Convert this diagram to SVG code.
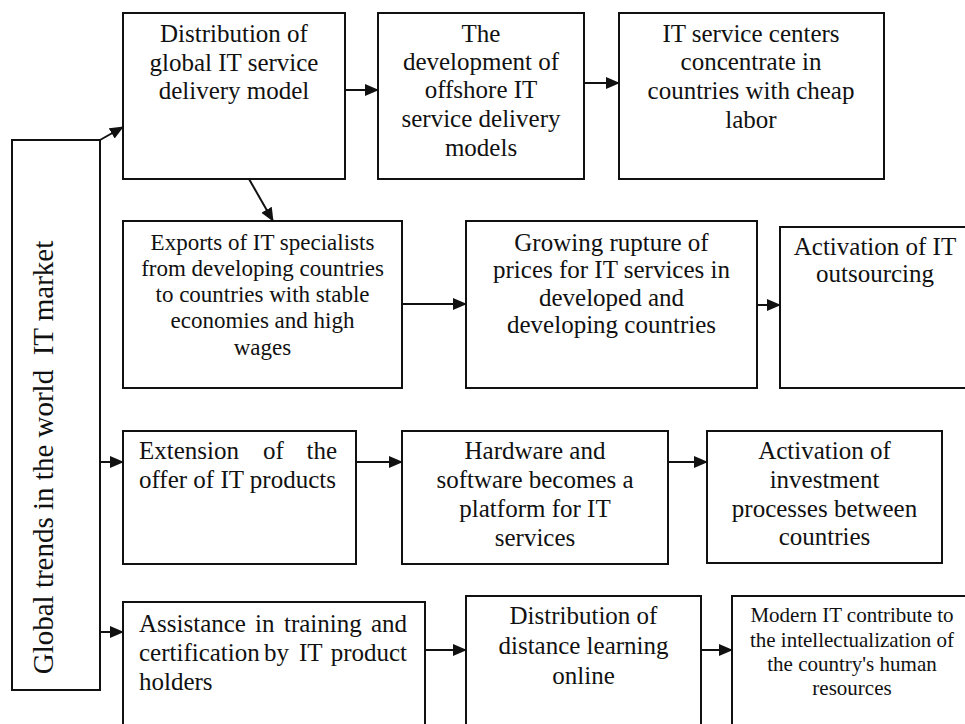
<svg xmlns="http://www.w3.org/2000/svg" width="965" height="724" viewBox="0 0 965 724">
<style>
.box{fill:#fff;stroke:#111;stroke-width:2}
text{font-family:"Liberation Serif","Times New Roman",serif;fill:#111}
.c{text-anchor:middle}
.f25{font-size:25px}
.f23{font-size:23px}
.f21{font-size:21px}
.f29{font-size:29px}
.conn line{stroke:#111;stroke-width:2;marker-end:url(#ah)}
</style>
<defs>
<marker id="ah" markerUnits="userSpaceOnUse" markerWidth="15" markerHeight="13" refX="13" refY="6" orient="auto">
<path d="M0,0 L14,6 L0,12 z" fill="#111"/>
</marker>
</defs>
<rect width="965" height="724" fill="#fff"/>

<g id="global">
<rect class="box" x="12" y="140" width="88" height="550"/>
<text class="f29 c" transform="translate(53,457.5) rotate(-90)" xml:space="preserve">Global trends in the world  IT market</text>
</g>

<g id="n1">
<rect class="box" x="123" y="13" width="222" height="166"/>
<text class="f25 c"><tspan x="234" y="42">Distribution of</tspan><tspan x="234" y="70.5">global IT service</tspan><tspan x="234" y="99">delivery model</tspan></text>
</g>

<g id="n2">
<rect class="box" x="378" y="13" width="206" height="166"/>
<text class="f25 c"><tspan x="481" y="42">The</tspan><tspan x="481" y="70">development of</tspan><tspan x="481" y="98">offshore IT</tspan><tspan x="481" y="127">service delivery</tspan><tspan x="481" y="156">models</tspan></text>
</g>

<g id="n3">
<rect class="box" x="619" y="13" width="265" height="166"/>
<text class="f25 c"><tspan x="751" y="42">IT service centers</tspan><tspan x="751" y="70">concentrate in</tspan><tspan x="751" y="99">countries with cheap</tspan><tspan x="751" y="128">labor</tspan></text>
</g>

<g id="n4">
<rect class="box" x="123" y="221" width="279" height="167"/>
<text class="f23 c"><tspan x="262.5" y="250">Exports of IT specialists</tspan><tspan x="262.5" y="276">from developing countries</tspan><tspan x="262.5" y="302">to countries with stable</tspan><tspan x="262.5" y="328">economies and high</tspan><tspan x="262.5" y="355">wages</tspan></text>
</g>

<g id="n5">
<rect class="box" x="466" y="221" width="291" height="167"/>
<text class="f25 c"><tspan x="611.5" y="251">Growing rupture of</tspan><tspan x="611.5" y="278">prices for IT services in</tspan><tspan x="611.5" y="306">developed and</tspan><tspan x="611.5" y="333">developing countries</tspan></text>
</g>

<g id="n6">
<rect class="box" x="780" y="227" width="195" height="161"/>
<text class="f25 c"><tspan x="875" y="255">Activation of IT</tspan><tspan x="875" y="282">outsourcing</tspan></text>
</g>

<g id="n7">
<rect class="box" x="123" y="431" width="233" height="133"/>
<text class="f25"><tspan x="139" y="459">Extension</tspan><tspan x="263" y="459">of</tspan><tspan x="337" y="459" text-anchor="end">the</tspan><tspan x="139" y="488">offer of IT products</tspan></text>
</g>

<g id="n8">
<rect class="box" x="402" y="431" width="266" height="133"/>
<text class="f25 c"><tspan x="535" y="459">Hardware and</tspan><tspan x="535" y="488">software becomes a</tspan><tspan x="535" y="517">platform for IT</tspan><tspan x="535" y="546">services</tspan></text>
</g>

<g id="n9">
<rect class="box" x="707" y="431" width="235" height="132"/>
<text class="f25 c"><tspan x="824.5" y="459">Activation of</tspan><tspan x="824.5" y="488">investment</tspan><tspan x="824.5" y="517">processes between</tspan><tspan x="824.5" y="545">countries</tspan></text>
</g>

<g id="n10">
<rect class="box" x="123" y="602" width="302" height="140"/>
<text class="f25"><tspan x="139" y="632">Assistance</tspan><tspan x="255" y="632">in</tspan><tspan x="284" y="632">training</tspan><tspan x="407" y="632" text-anchor="end">and</tspan><tspan x="139" y="661">certification</tspan><tspan x="264" y="661">by</tspan><tspan x="299" y="661">IT</tspan><tspan x="407" y="661" text-anchor="end">product</tspan><tspan x="139" y="690">holders</tspan></text>
</g>

<g id="n11">
<rect class="box" x="466" y="596" width="235" height="146"/>
<text class="f25 c"><tspan x="583.5" y="624">Distribution of</tspan><tspan x="583.5" y="654">distance learning</tspan><tspan x="583.5" y="684">online</tspan></text>
</g>

<g id="n12">
<rect class="box" x="732" y="596" width="243" height="146"/>
<text class="f21 c"><tspan x="852" y="622">Modern IT contribute to</tspan><tspan x="852" y="647">the intellectualization of</tspan><tspan x="852" y="671">the country's human</tspan><tspan x="852" y="695">resources</tspan></text>
</g>

<g id="connectors" class="conn">
<line x1="100" y1="140" x2="123" y2="127"/>
<line x1="100" y1="462" x2="123" y2="462"/>
<line x1="100" y1="632" x2="123" y2="632"/>
<line x1="345" y1="90" x2="378" y2="90"/>
<line x1="584" y1="83" x2="619" y2="83"/>
<line x1="249" y1="179" x2="273" y2="221"/>
<line x1="402" y1="304" x2="466" y2="304"/>
<line x1="757" y1="305" x2="780" y2="305"/>
<line x1="356" y1="462" x2="402" y2="462"/>
<line x1="668" y1="462" x2="707" y2="462"/>
<line x1="425" y1="650" x2="466" y2="650"/>
<line x1="701" y1="650" x2="732" y2="650"/>
</g>
</svg>
